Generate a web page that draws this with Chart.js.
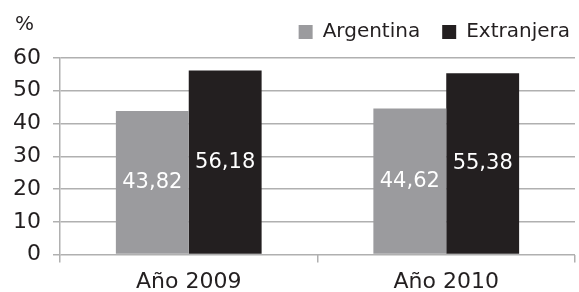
<!DOCTYPE html>
<html>
<head>
<meta charset="utf-8">
<script src="https://cdn.jsdelivr.net/npm/chart.js@4.4.1/dist/chart.umd.min.js"></script>
<style>
  html, body { margin: 0; padding: 0; background: #fff; }
  #wrap { width: 579px; height: 292px; }
</style>
</head>
<body>
<div id="wrap"><canvas id="grafico"></canvas></div>
<script>
// datos
const categorias = ['Año 2009', 'Año 2010'];
const argentina = [43.82, 44.62];
const extranjera = [56.18, 55.38];
const ticksY = [0, 10, 20, 30, 40, 50, 60];

const fuente = "'DejaVu Sans', sans-serif";
const gris = '#9b9b9e';
const negro = '#231f20';
const lineaGris = '#b0b0b0';

// escribe los valores dentro de cada barra
const etiquetasValor = {
    id: 'etiquetasValor',
    afterDatasetsDraw(chart) {
        const ctx = chart.ctx;
        ctx.save();
        ctx.font = '21px ' + fuente;
        ctx.fillStyle = '#ffffff';
        ctx.textAlign = 'center';
        ctx.textBaseline = 'middle';
        chart.data.datasets.forEach((ds, i) => {
            chart.getDatasetMeta(i).data.forEach((bar, j) => {
                const txt = ds.data[j].toFixed(2).replace('.', ',');
                ctx.fillText(txt, bar.x, (bar.y + bar.base) / 2);
            });
        });
        ctx.restore();
    }
};

// el signo % arriba del eje
const unidad = {
    id: 'unidad',
    afterDraw(chart) {
        const ctx = chart.ctx;
        ctx.save();
        ctx.font = '20px ' + fuente;
        ctx.fillStyle = negro;
        ctx.textAlign = 'left';
        ctx.textBaseline = 'middle';
        ctx.fillText('%', 15, 25);
        ctx.restore();
    }
};

// ajusta alto y posición de la leyenda
const ajusteLeyenda = {
    id: 'ajusteLeyenda',
    beforeInit(chart) {
        const lg = chart.legend;
        const fitOrig = lg.fit;
        lg.fit = function () {
            fitOrig.call(this);
            this.height += 6;
        };
    },
    afterLayout(chart) {
        chart.legend.left += 17;
        chart.legend.right += 17;
    }
};

new Chart(document.getElementById('grafico'), {
    type: 'bar',
    data: {
        labels: categorias,
        datasets: [
            { label: 'Argentina', data: argentina, backgroundColor: gris },
            { label: 'Extranjera', data: extranjera, backgroundColor: negro }
        ]
    },
    options: {
        responsive: true,
        maintainAspectRatio: false,
        animation: false,
        devicePixelRatio: 1,
        categoryPercentage: 0.566,
        barPercentage: 1,
        layout: { padding: { left: 1, right: 4, top: 0, bottom: -9 } },
        plugins: {
            legend: {
                position: 'top',
                align: 'end',
                labels: {
                    boxWidth: 14,
                    boxHeight: 14,
                    padding: 22,
                    color: negro,
                    font: { family: fuente, size: 20 }
                }
            },
            tooltip: { enabled: false }
        },
        scales: {
            x: {
                grid: {
                    drawOnChartArea: false,
                    drawTicks: true,
                    tickLength: 8,
                    color: lineaGris,
                    lineWidth: 1.5
                },
                border: { display: false },
                ticks: {
                    color: negro,
                    padding: 6,
                    font: { family: fuente, size: 22 }
                }
            },
            y: {
                min: 0,
                max: 60,
                afterBuildTicks(axis) {
                    axis.ticks = ticksY.map(v => ({ value: v }));
                },
                grid: {
                    color: lineaGris,
                    lineWidth: 1.5,
                    tickLength: 7
                },
                border: { display: true, color: lineaGris, width: 1.5 },
                ticks: {
                    color: negro,
                    padding: 12,
                    font: { family: fuente, size: 22 }
                }
            }
        }
    },
    plugins: [etiquetasValor, unidad, ajusteLeyenda]
});
</script>
</body>
</html>
